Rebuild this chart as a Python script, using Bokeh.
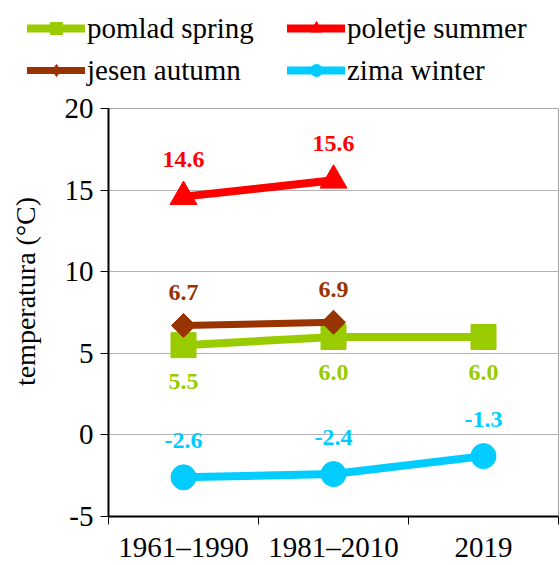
import math
from bokeh.plotting import figure
from bokeh.layouts import column
from bokeh.models import (Range1d, FixedTicker, Legend, LegendItem, ColumnDataSource)
from bokeh.core.properties import value
from bokeh.embed import file_html
from bokeh.resources import INLINE

categories = ["1961–1990", "1981–2010", "2019"]
spring = [5.5, 6.0, 6.0]
summer = [14.6, 15.6, None]
autumn = [6.7, 6.9, None]
winter = [-2.6, -2.4, -1.3]
y_ticks = [-5, 0, 5, 10, 15, 20]

# name, values, colour, marker, legend marker, size, angle, line width, label offset (px)
series = [
    ("pomlad spring", spring, "#99CC00", "square", "square", 25, 0, 8, 36),
    ("poletje summer", summer, "#FF0000", "triangle", "triangle", 27, 0, 8, -37),
    ("jesen autumn", autumn, "#993300", "square", "diamond", 17, math.pi / 4, 7, -33),
    ("zima winter", winter, "#00CCFF", "circle", "circle", 25, 0, 8, -37),
]

FONT = "Liberation Serif"
W = 560

# ---------- legend strip ----------
pl = figure(width=W, height=88, output_backend="svg", toolbar_location=None,
            x_axis_type=None, y_axis_type=None, x_range=Range1d(0, 1),
            y_range=Range1d(0, 1), min_border=0, outline_line_color=None)
pl.frame_align = False

# ---------- main chart ----------
p = figure(width=W, height=477, output_backend="svg", toolbar_location=None,
           x_range=Range1d(0, len(categories)), y_range=Range1d(-5, 20),
           min_border_left=108, min_border_right=2, min_border_top=20,
           min_border_bottom=46)
p.frame_align = False
p.outline_line_color = "#A6A6A6"
p.outline_line_width = 1

xpos = [i + 0.5 for i in range(len(categories))]

items = {}
for name, vals, color, marker, lmarker, size, angle, lw, off in series:
    xs = [x for x, v in zip(xpos, vals) if v is not None]
    ys = [v for v in vals if v is not None]
    src = ColumnDataSource(dict(x=xs, y=ys, lab=["%.1f" % v for v in ys]))
    p.line("x", "y", source=src, line_color=color, line_width=lw, line_cap="round")
    p.scatter("x", "y", source=src, marker=marker, size=size, angle=angle,
              fill_color=color, line_color=color)
    p.text("x", "y", text="lab", source=src, text_color=color,
           text_font=value(FONT), text_font_size="24px", text_font_style="bold",
           text_align="center", text_baseline="middle", y_offset=off)
    # legend swatches: same styles, hidden renderers in the legend strip
    r1 = pl.line("x", "y", source=src, line_color=color, line_width=lw,
                 line_cap="round", visible=False)
    r2 = pl.scatter("x", "y", source=src, marker=lmarker, size=size,
                    fill_color=color, line_color=color, visible=False)
    items[name] = LegendItem(label=name, renderers=[r1, r2])

order = ["pomlad spring", "jesen autumn", "poletje summer", "zima winter"]
legend = Legend(items=[items[n] for n in order], ncols=2,
                label_text_font=FONT, label_text_font_size="29px",
                label_text_color="black",
                glyph_width=58, glyph_height=30, label_standoff=2,
                label_width=192, label_height=34, spacing=8, padding=0, margin=0,
                border_line_color=None, background_fill_alpha=0,
                inactive_fill_alpha=0)
legend.location = (27, 1)
pl.add_layout(legend, "center")

# x axis
xax = p.xaxis[0]
xax.ticker = FixedTicker(ticks=xpos, minor_ticks=list(range(len(categories) + 1)))
xax.major_label_overrides = {x: c for x, c in zip(xpos, categories)}
xax.major_tick_line_color = None
xax.minor_tick_line_color = "black"
xax.minor_tick_out = 8
xax.minor_tick_in = 0
xax.axis_line_color = "black"
xax.axis_line_width = 2
xax.major_label_text_font = FONT
xax.major_label_text_font_size = "29px"
xax.major_label_text_color = "black"
xax.major_label_standoff = 6

yax = p.yaxis[0]
yax.ticker = FixedTicker(ticks=y_ticks, minor_ticks=[])
yax.major_label_overrides = {t: str(t) for t in y_ticks}
yax.axis_line_color = "black"
yax.axis_line_width = 2
yax.major_tick_out = 8
yax.major_tick_in = 0
yax.major_tick_line_color = "black"
yax.minor_tick_line_color = None
yax.major_label_text_font = FONT
yax.major_label_text_font_size = "29px"
yax.major_label_text_color = "black"
yax.major_label_standoff = 7
yax.axis_label = "\u00a0" * 6 + "temperatura (°C)"
yax.axis_label_text_font = FONT
yax.axis_label_text_font_size = "28px"
yax.axis_label_text_font_style = "normal"
yax.axis_label_text_color = "black"
yax.axis_label_standoff = 21

p.xgrid.grid_line_color = None
p.ygrid.grid_line_color = "#B3B3B3"
p.ygrid.grid_line_width = 1

layout = column(pl, p, spacing=0)
open("out.html", "w").write(file_html(layout, INLINE))
